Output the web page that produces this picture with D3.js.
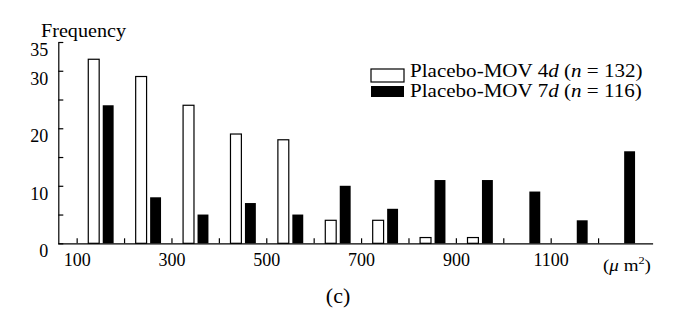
<!DOCTYPE html>
<html lang="en">
<head>
    <meta charset="UTF-8"/>
    <title>Frequency histogram</title>
    <script src="https://d3js.org/d3.v7.min.js"></script>
    <style>
        body { margin: 0; background: #fff; }
        text { font-family: "Liberation Serif", "Times New Roman", serif; fill: #000; }
        .axis path, .axis line { stroke: #000; stroke-width: 1.2; }
        .open { fill: #fff; stroke: #000; stroke-width: 1.2; }
        .filled { fill: #000; }
    </style>
</head>
<body>
<div id="chart"></div>
<script>
    // bins (lower edge, um^2)
    var binStarts = [100, 200, 300, 400, 500, 600, 700, 800, 900, 1000, 1100, 1200];
    var placebo4d = [32, 29, 24, 19, 18, 4, 4, 1, 1, 0, 0, 0];
    var placebo7d = [24, 8, 5, 7, 5, 10, 6, 11, 11, 9, 4, 16];
    var yTicks = [0, 5, 10, 15, 20, 25, 30, 35];
    var yLabels = [0, 10, 20, 30, 35];
    var xLabels = [100, 300, 500, 700, 900, 1100];
    var legendLabels = ["Placebo-MOV 4", "Placebo-MOV 7"];
    var legendN = [132, 116];

    var w = 685, h = 313;

    var xScale = d3.scaleLinear().domain([60, 1315]).range([57.7, 652.6]);
    var yScale = d3.scaleLinear().domain([0, 35]).range([243.3, 42]);
    var binW = xScale(200) - xScale(100);

    var svg = d3.select("#chart").append("svg")
        .attr("width", w).attr("height", h);

    // bars
    svg.selectAll(".open").data(binStarts).enter().append("rect")
        .attr("class", "open")
        .attr("x", (d) => xScale(d) + binW * 0.245)
        .attr("width", binW * 0.23)
        .attr("y", (d, i) => yScale(placebo4d[i]))
        .attr("height", (d, i) => yScale(0) - yScale(placebo4d[i]))
        .style("display", (d, i) => placebo4d[i] > 0 ? null : "none");

    svg.selectAll(".filled").data(binStarts).enter().append("rect")
        .attr("class", "filled")
        .attr("x", (d) => xScale(d) + binW * 0.55)
        .attr("width", binW * 0.23)
        .attr("y", (d, i) => yScale(placebo7d[i]))
        .attr("height", (d, i) => yScale(0) - yScale(placebo7d[i]));

    // axes
    let yAxis = d3.axisLeft(yScale)
        .tickValues(yTicks)
        .tickSizeInner(-5)
        .tickSizeOuter(0)
        .tickPadding(10)
        .tickFormat((d) => yLabels.indexOf(d) >= 0 ? d : "");
    let gy = svg.append("g").attr("class", "axis")
        .attr("transform", "translate(58.3,0)")
        .call(yAxis);
    gy.selectAll("text")
        .attr("font-size", "18px")
        .attr("dy", "0.75em");

    let xAxis = d3.axisBottom(xScale)
        .tickValues(binStarts)
        .tickSizeInner(-5)
        .tickSizeOuter(0)
        .tickPadding(12)
        .tickFormat((d) => xLabels.indexOf(d) >= 0 ? d : "");
    let gx = svg.append("g").attr("class", "axis")
        .attr("transform", `translate(0,${yScale(0)})`)
        .call(xAxis);
    gx.selectAll("text")
        .attr("font-size", "18px")
        .attr("dy", "0.6em");

    function label(x, y, size, sx, anchor) {
        return svg.append("text")
            .attr("transform", `translate(${x},${y}) scale(${sx},1)`)
            .attr("font-size", size)
            .attr("text-anchor", anchor || "start");
    }

    label(41, 37, "18px", 1.12).text("Frequency");
    label(338, 303, "20px", 1.1, "middle").text("(c)");

    let unit = label(603, 271, "17px", 1.12);
    unit.append("tspan").text("(");
    unit.append("tspan").text("\u03bc").attr("font-style", "italic");
    unit.append("tspan").text(" m");
    unit.append("tspan").text("2").attr("font-size", "11px").attr("dy", -7);
    unit.append("tspan").text(")").attr("dy", 7);

    // legend
    let legend = svg.append("g");
    legend.append("rect").attr("class", "open")
        .attr("x", 371).attr("y", 69).attr("width", 33).attr("height", 13);
    legend.append("rect").attr("class", "filled")
        .attr("x", 371).attr("y", 86).attr("width", 33).attr("height", 11);
    legendLabels.forEach(function(t, i) {
        let lt = label(410, 77 + i * 20, "18px", 1.17);
        lt.append("tspan").text(t);
        lt.append("tspan").text("d").attr("font-style", "italic");
        lt.append("tspan").text(" (");
        lt.append("tspan").text("n").attr("font-style", "italic");
        lt.append("tspan").text(" = " + legendN[i] + ")");
    });
</script>
</body>
</html>
